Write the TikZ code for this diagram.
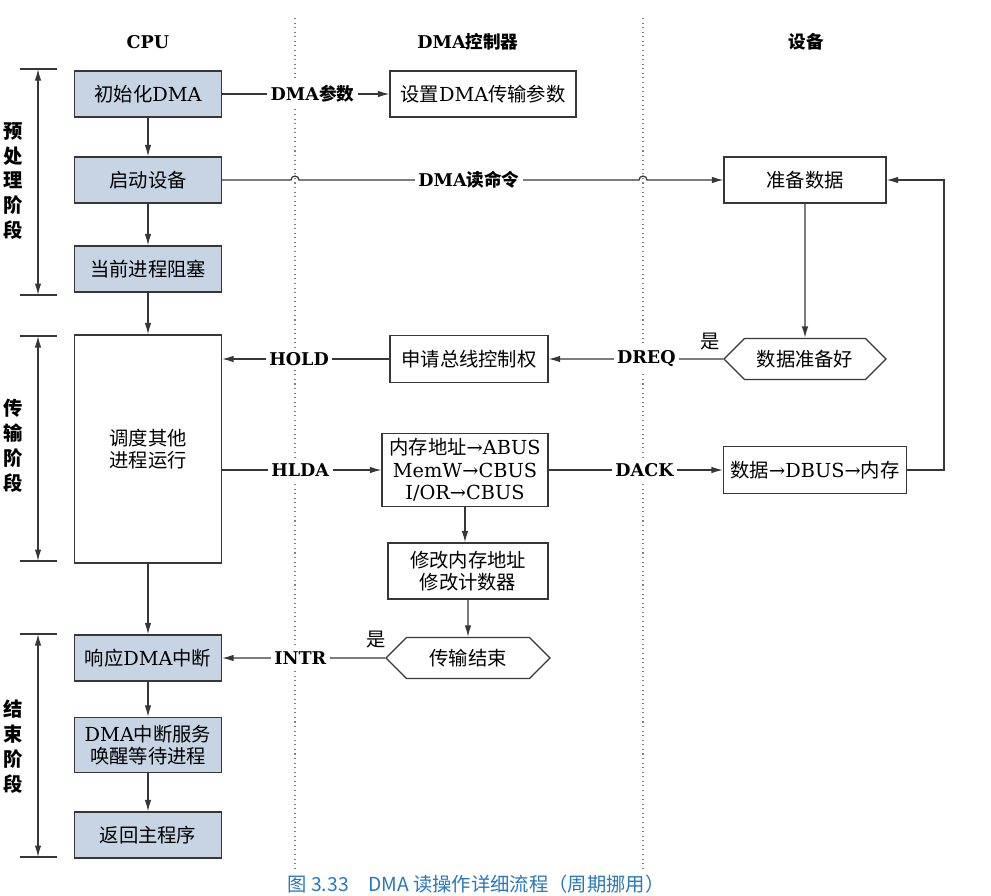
\documentclass[tikz,border=0pt]{standalone}
\usepackage{fontspec}
\setmainfont{DejaVu Serif}
\newfontfamily\cjk{Noto Sans CJK SC}
\usetikzlibrary{arrows.meta,shapes.symbols,calc}
\definecolor{cpublue}{RGB}{198,212,227}
\definecolor{linegray}{RGB}{55,55,55}
\definecolor{capblue}{RGB}{40,120,190}
\tikzset{
    box/.style={draw=linegray, line width=0.7pt, minimum width=2.94cm, minimum height=0.92cm, align=center, inner sep=1pt},
    cpubox/.style={box, fill=cpublue},
    cond/.style={signal, signal to=west and east, draw=linegray, line width=0.7pt, minimum width=3.24cm, minimum height=0.82cm, inner sep=1pt},
    sig/.style={fill=white, font=\bfseries, inner sep=2pt},
    link/.style={draw=linegray, line width=0.7pt},
    arr/.style={link, -{Latex[length=2.3mm,width=1.3mm]}},
    stage/.style={align=center, font=\cjk\bfseries\fontsize{11}{14.2}\selectfont},
    head/.style={font=\bfseries},
    zh/.style={font=\cjk\fontsize{11}{12.8}\selectfont}
}
\begin{document}
\begin{tikzpicture}[x=0.02cm, y=-0.02cm, font=\fontsize{11}{12.8}\selectfont]
    \useasboundingbox (0,0) rectangle (991,896);
    % column headings and dotted separators
    \node[head] (hcpu) at (148,42) {CPU};
    \node[head] (hdma) at (468,42) {DMA{\cjk 控制器}};
    \node[head] (hdev) at (806,42) {\cjk 设备};
    \coordinate (d1) at (295,18);
    \coordinate (d2) at (643,18);
    \foreach \p in {d1,d2} {
        \draw[dotted, gray, line width=0.6pt] (\p) -- ++(0,852);
    }
    % stages
    \foreach \ya/\yb in {69/295, 336/561, 634/857} {
        \draw[link] (20,\ya) -- (57,\ya);
        \draw[link] (20,\yb) -- (57,\yb);
        \draw[link, {Latex[length=2.3mm,width=1.3mm]}-{Latex[length=2.3mm,width=1.3mm]}] (38,\ya) -- (38,\yb);
    }
    \node[stage] (st1) at (13,181) {预\\处\\理\\阶\\段};
    \node[stage] (st2) at (13,446) {传\\输\\阶\\段};
    \node[stage] (st3) at (13,747) {结\\束\\阶\\段};
    % CPU
    \node[cpubox] (init) at (148,94) {{\cjk 初始化}DMA};
    \node[cpubox, zh] (boot) at (148,180) {启动设备};
    \node[cpubox, zh] (block) at (148,269) {当前进程阻塞};
    \node[box, zh, minimum height=4.56cm] (sched) at (148,449) {调度其他\\进程运行};
    \node[cpubox] (ack) at (148,658) {{\cjk 响应}DMA{\cjk 中断}};
    \node[cpubox, minimum height=1.1cm] (isr) at (148,745) {DMA{\cjk 中断服务}\\{\cjk 唤醒等待进程}};
    \node[cpubox, zh] (ret) at (148,835) {返回主程序};
    % DMA controller
    \node[box, minimum width=3.72cm] (setp) at (483,94) {{\cjk 设置}DMA{\cjk 传输参数}};
    \node[box, zh, minimum width=3.16cm, minimum height=0.94cm] (req) at (469,359) {申请总线控制权};
    \node[box, minimum width=3.32cm, minimum height=1.46cm] (bus) at (465,470) {{\cjk 内存地址}→ABUS\\MemW→CBUS\\I/OR→CBUS};
    \node[box, zh, minimum width=3.2cm, minimum height=1.12cm] (upd) at (468,571) {修改内存地址\\修改计数器};
    \node[cond, zh, minimum width=3.28cm] (endq) at (468,658) {传输结束};
    \node[zh] (yes2) at (376,640) {是};
    % device
    \node[box, zh, minimum width=3.24cm] (prep) at (805,180) {准备数据};
    \node[cond, zh] (ready) at (805,359) {数据准备好};
    \node[zh] (yes1) at (710,342) {是};
    \node[box, minimum width=3.66cm, minimum height=0.94cm] (dbus) at (815,470) {{\cjk 数据}→DBUS→{\cjk 内存}};
    % connectors
    \draw[arr] (init) -- (boot);
    \draw[arr] (boot) -- (block);
    \draw[arr] (block) -- (sched);
    \draw[arr] (sched) -- (ack);
    \draw[arr] (ack) -- (isr);
    \draw[arr] (isr) -- (ret);
    \draw[arr] (init) -- node[sig, pos=0.54] {DMA{\cjk 参数}} (setp);
    \draw[arr] (boot.east) -- ($(boot.east -| d1)+(-4,0)$) arc[start angle=180, end angle=0, radius=0.08cm]
        -- node[sig] {DMA{\cjk 读命令}} ($(boot.east -| d2)+(-4,0)$) arc[start angle=180, end angle=0, radius=0.08cm]
        -- (prep.west);
    \draw[arr] (prep) -- (ready);
    \draw[arr] (ready) -- node[sig, pos=0.44] {DREQ} (req);
    \draw[arr] (req) -- node[sig, pos=0.54] {HOLD} (sched.east |- req);
    \draw[arr] (sched.east |- bus) -- node[sig, pos=0.49] {HLDA} (bus);
    \draw[arr] (bus) -- node[sig, pos=0.55] {DACK} (dbus);
    \draw[arr] (dbus.east) -- ++(37,0) |- (prep.east);
    \draw[arr] (bus.south) -- (bus.south |- upd.north);
    \draw[arr] (upd) -- (endq);
    \draw[arr] (endq) -- node[sig, pos=0.52] {INTR} (ack);
    % caption
    \node[text=capblue, font=\cjk\fontsize{11}{13}\selectfont] (cap) at (476,884) {图 3.33\quad DMA 读操作详细流程（周期挪用）};
\end{tikzpicture}
\end{document}
